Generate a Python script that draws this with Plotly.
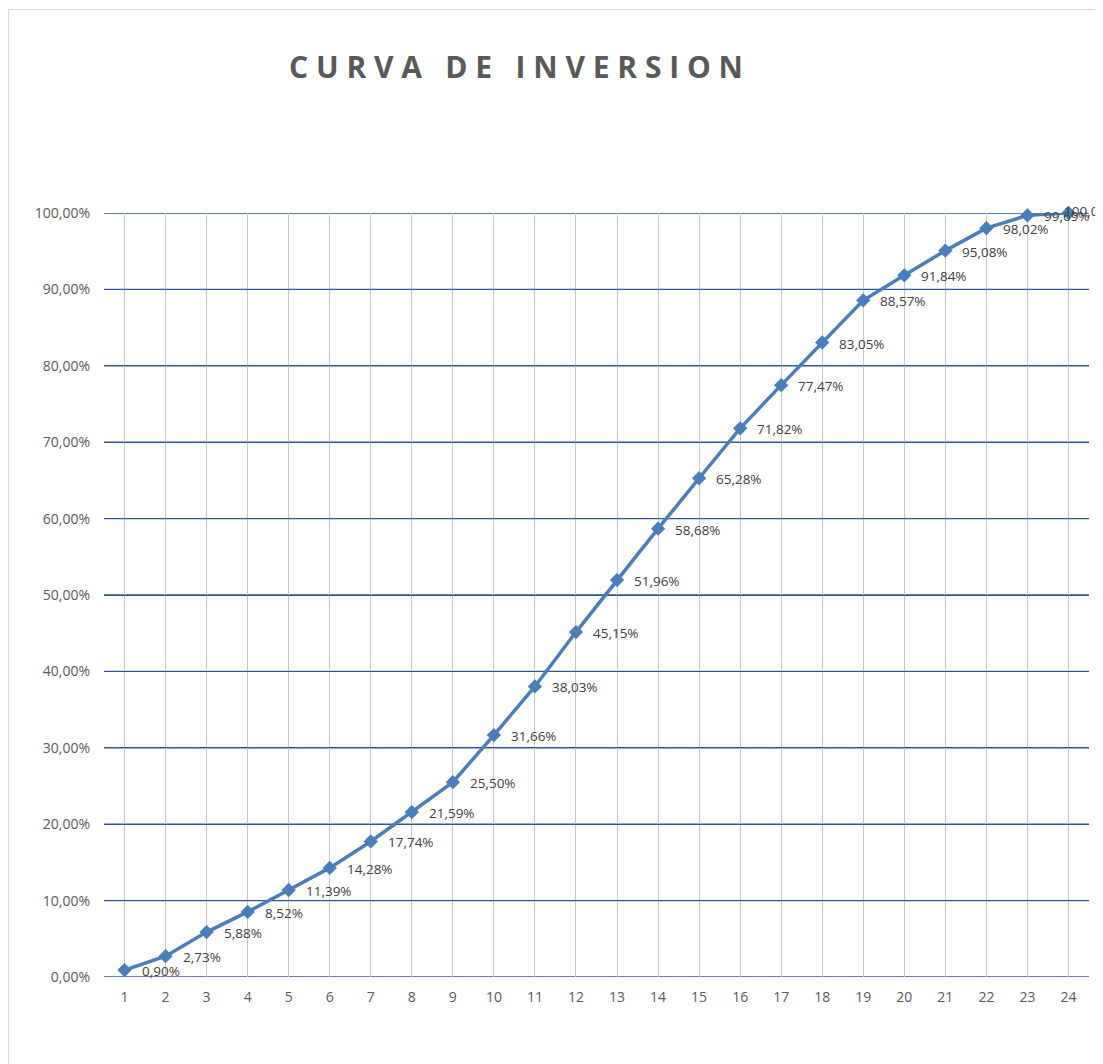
import plotly.graph_objects as go

periods = list(range(1, 25))
values_pct = [0.90, 2.73, 5.88, 8.52, 11.39, 14.28, 17.74, 21.59, 25.50, 31.66,
              38.03, 45.15, 51.96, 58.68, 65.28, 71.82, 77.47, 83.05, 88.57, 91.84,
              95.08, 98.02, 99.69, 100.00]
y_ticks = [i / 10 for i in range(11)]

values = [v / 100 for v in values_pct]
labels = [f"{v:.2f}".replace(".", ",") + "%" for v in values_pct]

LINE = "#4A7EBB"
GRID_H = "#2F5597"
GRID_V = "#C8C8C8"
TXT = "#595959"
FONT = "Open Sans"

fig = go.Figure()
fig.add_trace(go.Scatter(
    x=periods, y=values, mode="lines+markers",
    line=dict(color=LINE, width=3.5),
    marker=dict(symbol="diamond", size=11, color=LINE),
    cliponaxis=False, showlegend=False, hoverinfo="skip",
))

for i, (x, y, t) in enumerate(zip(periods, values, labels)):
    last = i == len(periods) - 1
    fig.add_annotation(x=x, y=y, text=t, showarrow=False, xanchor="left",
                       yanchor="middle", xshift=-6 if last else 15,
                       yshift=2 if last else -1,
                       font=dict(family=FONT, size=13.5, color="#404040"))

# page has an 8px body margin, so the figure is sized to fill the rest
W, H = 1095, 1056
OFF = 8
ml, mr, mt, mb = 104 - OFF, W - (1089 - OFF), 213 - OFF, H - (977 - OFF)
pw, ph = W - ml - mr, H - mt - mb

def px_to_paper_x(px):
    return (px - OFF - ml) / pw

def px_to_paper_y(py):
    return (H - mb - (py - OFF)) / ph

# chart border
fig.add_shape(type="rect", xref="paper", yref="paper",
              x0=px_to_paper_x(OFF + 0.5), x1=px_to_paper_x(1200),
              y0=px_to_paper_y(1200), y1=px_to_paper_y(9.5),
              line=dict(color="#D9D9D9", width=1), fillcolor="rgba(0,0,0,0)",
              layer="below")

fig.add_annotation(xref="paper", yref="paper",
                   x=px_to_paper_x(516), y=px_to_paper_y(67),
                   text="C U R V A   D E   I N V E R S I O N", showarrow=False,
                   xanchor="center", yanchor="middle",
                   font=dict(family=FONT, size=30, color=TXT, weight="bold"))

fig.update_layout(
    width=W, height=H,
    margin=dict(l=ml, r=mr, t=mt, b=mb),
    paper_bgcolor="white", plot_bgcolor="white",
    separators=",.",
    font=dict(family=FONT, size=14, color=TXT),
)
fig.update_xaxes(
    range=[0.5, 24.5], tickmode="array", tickvals=periods,
    ticktext=[str(p) for p in periods],
    showgrid=True, gridcolor=GRID_V, gridwidth=1.3,
    zeroline=False, showline=False, ticks="", ticklabelstandoff=10,
    tickfont=dict(family=FONT, size=14, color=TXT), fixedrange=True,
)
fig.update_yaxes(
    range=[0, 1], tickmode="array", tickvals=y_ticks, tickformat=".2%",
    showgrid=True, gridcolor=GRID_H, gridwidth=1.3,
    zeroline=False, showline=False, ticks="", ticklabelstandoff=13,
    tickfont=dict(family=FONT, size=14, color=TXT), fixedrange=True,
)
# horizontal blue grid drawn above vertical gray grid
for yt in y_ticks:
    fig.add_shape(type="line", xref="paper", yref="y", x0=0, x1=1, y0=yt, y1=yt,
                  line=dict(color=GRID_H, width=1.3), layer="below")

fig.write_html("out.html")
